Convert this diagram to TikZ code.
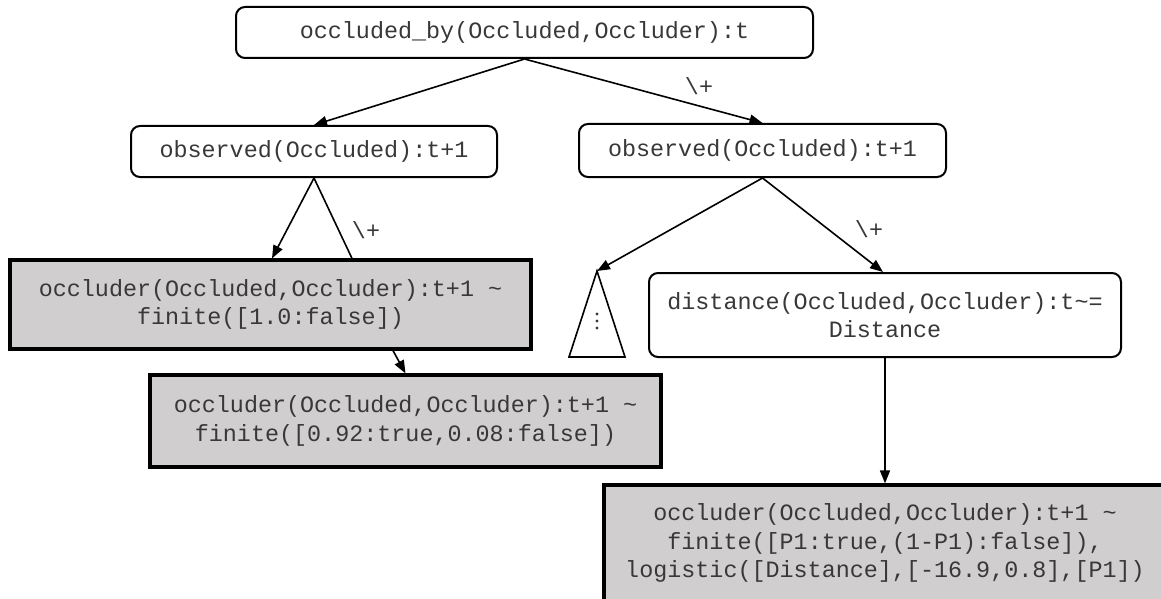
\documentclass[tikz,border=0pt]{standalone}
\usepackage{fontspec}
\setmonofont{Liberation Mono}
\usetikzlibrary{arrows.meta,calc}
\definecolor{boxgray}{HTML}{D0CECE}
\definecolor{txt}{HTML}{383838}
\begin{document}
\begin{tikzpicture}[x=1pt,y=-1pt,
  every node/.style={font=\fontsize{23.4}{28.5}\selectfont\ttfamily, text=txt, align=center, inner sep=0pt},
  roundbox/.style={draw=black, line width=2pt, rounded corners=9pt, fill=white},
  graybox/.style={draw=black, line width=3.2pt, fill=boxgray},
  conn/.style={line width=1.6pt, draw=black},
  arr/.style={conn, -{Triangle[length=13pt,width=10pt]}},
  lbl/.style={}]
\useasboundingbox (0,0) rectangle (1161,599);
\clip (0,0) rectangle (1161,599);
\node[roundbox, minimum width=577pt, minimum height=51pt] (top) at (524.5,32.5) {occluded\_by(Occluded,Occluder):t};
\node[roundbox, minimum width=366pt, minimum height=51pt] (obsL) at (314,151.5) {observed(Occluded):t+1};
\node[roundbox, minimum width=367pt, minimum height=53pt] (obsR) at (762.5,150.5) {observed(Occluded):t+1};
\node[graybox, minimum width=521pt, minimum height=89pt] (occA) at (270.5,304.5) {occluder(Occluded,Occluder):t+1 \char`\~\\finite([1.0:false])};
\node[graybox, minimum width=511pt, minimum height=92pt] (occB) at (405.5,421) {occluder(Occluded,Occluder):t+1 \char`\~\\finite([0.92:true,0.08:false])};
\node[roundbox, minimum width=472pt, minimum height=84pt] (dist) at (885,315) {distance(Occluded,Occluder):t\char`\~=\\Distance};
\node[graybox, minimum width=562pt, minimum height=116pt] (occC) at (885,543) {occluder(Occluded,Occluder):t+1 \char`\~\\finite([P1:true,(1-P1):false]),\\logistic([Distance],[-16.9,0.8],[P1])};
% triangle
\coordinate (tri) at (597,271);
\draw[line width=1.6pt, line join=miter] (tri) -- (569,357) -- (625,357) -- cycle;
\foreach \yy in {314,321,328} \fill[txt] (597,\yy) circle (1.6pt);
% connectors
\draw[arr] (top.south) -- (obsL.north);
\draw[arr] (top.south) -- (obsR.north);
\node[lbl] (l1) at (699,86) {\char`\\+};
\draw[arr] (obsL.south) -- ([xshift=1.5pt]occA.north);
\draw[conn] (obsL.south) -- ([xshift=81.5pt]occA.north);
\node[lbl] (l2) at (366,230) {\char`\\+};
\draw[arr] ([xshift=122.5pt]occA.south) -- (occB.north);
\draw[arr] (obsR.south) -- (tri);
\draw[arr] (obsR.south) -- ([xshift=-2pt]dist.north);
\node[lbl] (l3) at (869,229) {\char`\\+};
\draw[arr] (dist.south) -- (occC.north);
\end{tikzpicture}
\end{document}
